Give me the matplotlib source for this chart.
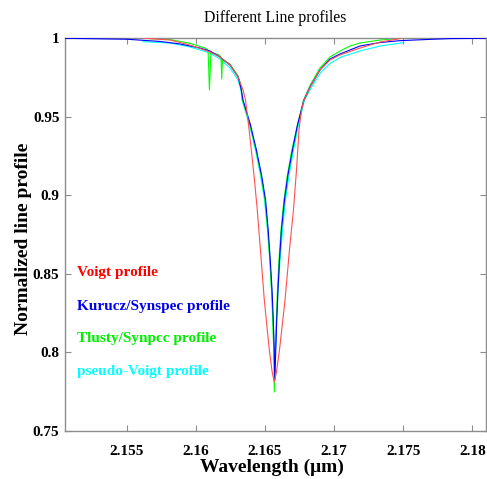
import matplotlib
matplotlib.use("Agg")
import matplotlib.pyplot as plt

# Kurucz/Synspec (blue)
kur_wl = [2.15053, 2.15501, 2.15740, 2.15885, 2.16030, 2.16102, 2.16174, 2.16247, 2.16305, 2.16326,
          2.16341, 2.16395, 2.16438, 2.16475, 2.16504, 2.16523, 2.16538, 2.16551, 2.16560, 2.16567,
          2.16571,
          2.16578, 2.16585, 2.16594, 2.16605, 2.16619, 2.16641, 2.16666, 2.16699, 2.16735, 2.16779,
          2.16826, 2.16898, 2.16970, 2.17043, 2.17187, 2.17332, 2.17477, 2.17716, 2.17839, 2.18099]
kur_val = [1.0000, 0.9994, 0.9980, 0.9964, 0.9938, 0.9919, 0.9881, 0.9830, 0.9754, 0.9683,
           0.9607, 0.9448, 0.9288, 0.9129, 0.8970, 0.8779, 0.8588, 0.8397, 0.8206, 0.8015,
           0.7823,
           0.8015, 0.8206, 0.8397, 0.8588, 0.8779, 0.8970, 0.9129, 0.9288, 0.9448, 0.9600,
           0.9690, 0.9798, 0.9868, 0.9900, 0.9951, 0.9973, 0.9985, 0.9994, 0.9998, 1.0000]

# pseudo-Voigt (cyan)
pv_wl = [2.15617, 2.15813, 2.15957, 2.16102, 2.16174, 2.16247, 2.16305, 2.16326,
         2.16334, 2.16388, 2.16431, 2.16467, 2.16496, 2.16518, 2.16535, 2.16548, 2.16558, 2.16565,
         2.16569,
         2.16575, 2.16584, 2.16594, 2.16609, 2.16627, 2.16648, 2.16674, 2.16706, 2.16742, 2.16786,
         2.16833, 2.16905, 2.16977, 2.17050, 2.17187, 2.17332, 2.17499]
pv_val = [0.9978, 0.9970, 0.9945, 0.9906, 0.9868, 0.9811, 0.9734, 0.9671,
          0.9607, 0.9448, 0.9288, 0.9129, 0.8970, 0.8779, 0.8588, 0.8397, 0.8206, 0.8015,
          0.7887,
          0.8015, 0.8206, 0.8397, 0.8588, 0.8779, 0.8970, 0.9129, 0.9288, 0.9448, 0.9607,
          0.9683, 0.9785, 0.9843, 0.9881, 0.9919, 0.9951, 0.9972]

# Tlusty/Synspec (green)
tl_wl = [2.15632, 2.15813, 2.15957, 2.16066, 2.16088, 2.16098, 2.16109, 2.16167, 2.16182, 2.16187,
         2.16192, 2.16247, 2.16305, 2.16326,
         2.16337, 2.16391, 2.16435, 2.16471, 2.16500, 2.16520, 2.16535, 2.16547, 2.16556, 2.16563,
         2.16567,
         2.16575, 2.16582, 2.16590, 2.16601, 2.16616, 2.16637, 2.16662, 2.16694, 2.16735, 2.16779,
         2.16826, 2.16898, 2.16970, 2.17043, 2.17115, 2.17187, 2.17332, 2.17477]
tl_val = [1.0000, 0.9992, 0.9968, 0.9938, 0.9925, 0.9671, 0.9913, 0.9894, 0.9881, 0.9741,
          0.9862, 0.9836, 0.9760, 0.9696,
          0.9607, 0.9448, 0.9288, 0.9129, 0.8970, 0.8779, 0.8588, 0.8397, 0.8206, 0.8015,
          0.7746,
          0.8015, 0.8206, 0.8397, 0.8588, 0.8779, 0.8970, 0.9129, 0.9288, 0.9448, 0.9607,
          0.9700, 0.9811, 0.9881, 0.9919, 0.9951, 0.9970, 0.9989, 1.0000]

# Voigt (red)
vo_wl = [2.15632, 2.15813, 2.15957, 2.16102, 2.16174, 2.16247, 2.16305, 2.16341,
         2.16359, 2.16381, 2.16401, 2.16424, 2.16444, 2.16467, 2.16495, 2.16531, 2.16552, 2.16567,
         2.16583, 2.16605, 2.16645, 2.16677, 2.16706, 2.16728, 2.16746, 2.16764, 2.16782,
         2.16826, 2.16898, 2.16970, 2.17043, 2.17187, 2.17332, 2.17477]
vo_val = [1.0000, 0.9989, 0.9957, 0.9913, 0.9881, 0.9830, 0.9754, 0.9671,
          0.9607, 0.9448, 0.9288, 0.9097, 0.8907, 0.8652, 0.8333, 0.8015, 0.7874, 0.7810,
          0.7874, 0.8015, 0.8333, 0.8652, 0.8907, 0.9161, 0.9416, 0.9543, 0.9607,
          0.9690, 0.9798, 0.9862, 0.9894, 0.9938, 0.9976, 0.9998]

x_ticks = [2.155, 2.16, 2.165, 2.17, 2.175, 2.18]
x_tick_labels = ["2.155", "2.16", "2.165", "2.17", "2.175", "2.18"]
y_ticks = [0.75, 0.8, 0.85, 0.9, 0.95, 1.0]
y_tick_labels = ["0.75", "0.8", "0.85", "0.9", "0.95", "1"]

legend_labels = ["Voigt profile", "Kurucz/Synspec profile", "Tlusty/Synpcc profile", "pseudo-Voigt profile"]
legend_colors = ["#ff0000", "#0000ee", "#00ee00", "#00ffff"]

serif = ["Liberation Serif", "DejaVu Serif"]
plt.rcParams["font.family"] = serif

fig = plt.figure(figsize=(4.87, 4.79), dpi=100)
ax = fig.add_axes([65/487, 48.3/479, (486-65)/487, (430.7-38.3)/479])

ax.plot(kur_wl, kur_val, color="#0000ff", lw=0.8, zorder=3)
ax.plot(pv_wl, pv_val, color="#00ffff", lw=0.8, zorder=2)
ax.plot(tl_wl, tl_val, color="#00ff00", lw=0.8, zorder=2.5)
ax.plot(vo_wl, vo_val, color="#ff5050", lw=0.8, zorder=4)

ax.set_xlim(2.15053, 2.18099)
ax.set_ylim(0.75, 1.0)
ax.set_xticks(x_ticks)
ax.set_xticklabels(x_tick_labels)
ax.set_yticks(y_ticks)
ax.set_yticklabels(y_tick_labels)

for s in ax.spines.values():
    s.set_color("#8c8c8c")
    s.set_linewidth(1.0)
ax.tick_params(direction="in", length=4, color="#8c8c8c", top=True, right=True,
               labelsize=11)
ax.tick_params(axis="x", pad=10.5)
ax.tick_params(axis="y", pad=4)
for lab in ax.get_xticklabels() + ax.get_yticklabels():
    lab.set_fontweight("bold")

ax.set_xlabel("Wavelength (\u03bcm)", fontsize=14, fontweight="bold")
ax.xaxis.set_label_coords(0.492, -0.071)
ax.set_ylabel("Normalized line profile", fontsize=14, fontweight="bold")
ax.yaxis.set_label_coords(-0.078, 0.4885)
ax.set_title("Different Line profiles", fontsize=11.3, pad=12)

ypos = [0.402, 0.317, 0.236, 0.150]
for lab, col, yy in zip(legend_labels, legend_colors, ypos):
    ax.text(0.029, yy, lab, color=col, fontsize=11, fontweight="bold",
            transform=ax.transAxes, va="center", ha="left")

fig.savefig("out.png", dpi=100)
